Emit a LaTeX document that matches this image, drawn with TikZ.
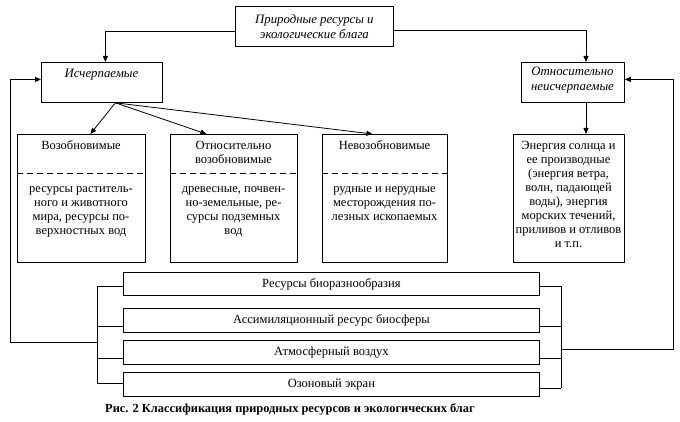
\documentclass[tikz,border=0pt]{standalone}
\usepackage{fontspec}
\setmainfont{Liberation Serif}
\usetikzlibrary{arrows.meta}
\begin{document}
\begin{tikzpicture}[x=1pt,y=-1pt,line width=0.8pt,
  box/.style={draw,inner sep=0pt,anchor=north west},
  txt/.style={font=\fontsize{12.5}{14}\selectfont,align=center,inner sep=0pt},
  itxt/.style={font=\fontsize{12.8}{15}\selectfont\itshape,align=center,inner sep=0pt},
  arr/.style={-{Triangle[length=6pt,width=5pt]}},
  sep/.style={dashed,dash pattern=on 6pt off 4pt}]
\useasboundingbox (0,0) rectangle (680,422);
% top level
\node[box,minimum width=158pt,minimum height=40pt,itxt] (top) at (235,6) {Природные ресурсы и\\экологические блага};
\node[box,minimum width=121pt,minimum height=40pt] (isch) at (41,62) {};
\node[itxt] (ischt) at (101.5,75) {Исчерпаемые};
\node[box,minimum width=103pt,minimum height=40pt] (otn) at (521,62) {};
\node[itxt] (otnt) at (572.5,80.5) {Относительно\\неисчерпаемые};
% middle row
\node[box,minimum width=128pt,minimum height=128pt] (voz) at (17,134) {};
\node[box,minimum width=127pt,minimum height=128pt] (otv) at (170,134) {};
\node[box,minimum width=125pt,minimum height=128pt] (nev) at (322,134) {};
\node[box,minimum width=111pt,minimum height=128pt] (ene) at (513,134) {};
\node[txt] (vozt) at (81,145) {Возобновимые};
\node[txt] (otvt) at (233.5,152) {Относительно\\возобновимые};
\node[txt] (nevt) at (384.5,145) {Невозобновимые};
\draw[sep] (voz.west |- 0,173) -- (voz.east |- 0,173);
\draw[sep] (otv.west |- 0,173) -- (otv.east |- 0,173);
\draw[sep] (nev.west |- 0,173) -- (nev.east |- 0,173);
\node[txt,anchor=north] (vozb) at (81,186) {ресурсы раститель-\\ного и животного\\мира, ресурсы по-\\верхностных вод};
\node[txt,anchor=north] (otvb) at (233.5,186) {древесные, почвен-\\но-земельные, ре-\\сурсы подземных\\вод};
\node[txt,anchor=north] (nevb) at (384.5,186) {рудные и нерудные\\месторождения по-\\лезных ископаемых};
\node[txt,anchor=north] (enet) at (568.5,141) {Энергия солнца и\\ее производные\\(энергия ветра,\\волн, падающей\\воды), энергия\\морских течений,\\приливов и отливов\\и т.п.};
% bottom boxes
\node[box,minimum width=416pt,minimum height=23pt,txt] (b1) at (123,272) {Ресурсы биоразнообразия};
\node[box,minimum width=416pt,minimum height=24pt,txt] (b2) at (123,308) {Ассимиляционный ресурс биосферы};
\node[box,minimum width=416pt,minimum height=24pt,txt] (b3) at (123,340) {Атмосферный воздух};
\node[box,minimum width=416pt,minimum height=24pt,txt] (b4) at (123,372) {Озоновый экран};
\node[font=\fontsize{12.4}{14}\selectfont\bfseries,inner sep=0pt] (cap) at (290,409) {Рис. 2 Классификация природных ресурсов и экологических благ};
% arrows from top
\coordinate (ra) at (586,0);
\draw[arr] ([yshift=-5pt]top.west) -| ([xshift=3.5pt]isch.north);
\draw[arr] ([yshift=-4pt]top.east) -| (ra |- otn.north);
\draw[arr] (ra |- otn.south) -- (ra |- ene.north);
\draw[arr] ([xshift=13.5pt]isch.south) -- ([xshift=9pt]voz.north);
\draw[arr] ([xshift=13.5pt]isch.south) -- ([xshift=-27.5pt]otv.north);
\draw[arr] ([xshift=13.5pt]isch.south) -- ([xshift=-12.5pt]nev.north);
% left bracket
\coordinate (l1) at (97,286);
\coordinate (l2) at (97,326);
\coordinate (l3) at (97,358);
\coordinate (l4) at (97,383);
\coordinate (lj) at (97,342);
\coordinate (lc) at (10,342);
\draw (l1) -- (l4);
\draw (l1) -- (l1 -| b1.west);
\draw (l2) -- (l2 -| b2.west);
\draw (l3) -- (l3 -| b3.west);
\draw (l4) -- (l4 -| b4.west);
\draw[arr] (lj) -- (lc) |- ([yshift=3pt]isch.west);
% right bracket
\coordinate (r1) at (561,286);
\coordinate (r2) at (561,326);
\coordinate (r3) at (561,358);
\coordinate (r4) at (561,388);
\coordinate (rj) at (561,349);
\coordinate (rc) at (673,349);
\draw (r1) -- (r4);
\draw (r1) -- (r1 -| b1.east);
\draw (r2) -- (r2 -| b2.east);
\draw (r3) -- (r3 -| b3.east);
\draw (r4) -- (r4 -| b4.east);
\draw[arr] (rj) -- (rc) |- ([yshift=3pt]otn.east);
\end{tikzpicture}
\end{document}
